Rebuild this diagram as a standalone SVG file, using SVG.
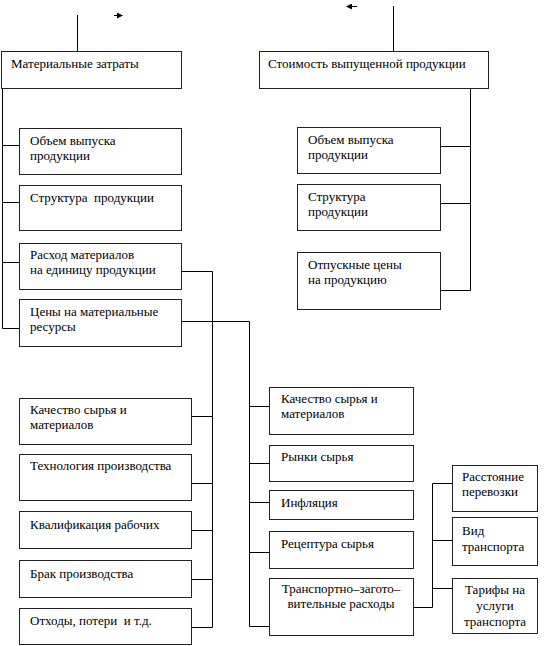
<svg xmlns="http://www.w3.org/2000/svg" width="548" height="646" viewBox="0 0 548 646">
<defs>
<style>
.box{fill:#fff;stroke:#222;stroke-width:1}
.ln{fill:none;stroke:#000;stroke-width:1}
.c{text-anchor:middle}
.t{font-family:"Times New Roman","Liberation Serif",Tinos,"DejaVu Serif",serif;font-size:13px;fill:#000}
</style>
<marker id="ah" viewBox="0 0 6 6" refX="5" refY="3" markerWidth="6" markerHeight="6" markerUnits="userSpaceOnUse" orient="auto">
<path d="M0,0 L6,3 L0,6 Z" fill="#000"/>
</marker>
</defs>
<rect width="548" height="646" fill="#fff"/>
<g id="connectors">
<line class="ln" x1="114" y1="15.5" x2="122" y2="15.5" marker-end="url(#ah)"/>
<line class="ln" x1="357" y1="6.5" x2="347" y2="6.5" marker-end="url(#ah)"/>
<line class="ln" x1="77.5" y1="15" x2="77.5" y2="51"/>
<line class="ln" x1="393.5" y1="6" x2="393.5" y2="51"/>
<path class="ln" d="M2.5,88 V328.5 H19 M2.5,145.5 H19 M2.5,202.5 H19 M2.5,262.5 H19"/>
<path class="ln" d="M470.5,88 V290.5 H441 M470.5,146.5 H441 M470.5,203.5 H441"/>
<path class="ln" d="M181,271.5 H212.5 V627.5 H191 M212.5,416.5 H191 M212.5,483.5 H191 M212.5,530.5 H191 M212.5,579.5 H191"/>
<path class="ln" d="M181,321.5 H249.5 V626.5 H269 M249.5,406.5 H269 M249.5,463.5 H269 M249.5,502.5 H269 M249.5,552.5 H269"/>
<path class="ln" d="M413,607.5 H432.5 V483.5 H452 M432.5,540.5 H452 M432.5,588.5 H452"/>
</g>
<g class="t">
<g id="n-mat">
<rect class="box" x="1.5" y="51.5" width="180" height="37"/>
<text class="t" x="11" y="68">Материальные затраты</text>
</g>
<g id="n-stoim">
<rect class="box" x="259.5" y="51.5" width="229" height="37"/>
<text class="t" x="268" y="68">Стоимость выпущенной продукции</text>
</g>
<g id="n-l1">
<rect class="box" x="19.5" y="128.5" width="162" height="46"/>
<text class="t" x="30" y="145">Объем выпуска</text>
<text class="t" x="30" y="160">продукции</text>
</g>
<g id="n-l2">
<rect class="box" x="19.5" y="185.5" width="162" height="45"/>
<text class="t" x="30" y="202" xml:space="preserve">Структура  продукции</text>
</g>
<g id="n-l3">
<rect class="box" x="19.5" y="243.5" width="162" height="46"/>
<text class="t" x="30" y="259">Расход материалов</text>
<text class="t" x="30" y="274">на единицу продукции</text>
</g>
<g id="n-l4">
<rect class="box" x="19.5" y="299.5" width="162" height="47"/>
<text class="t" x="30" y="316">Цены на материальные</text>
<text class="t" x="30" y="331">ресурсы</text>
</g>
<g id="n-r1">
<rect class="box" x="297.5" y="127.5" width="143" height="46"/>
<text class="t" x="308" y="144">Объем выпуска</text>
<text class="t" x="308" y="159">продукции</text>
</g>
<g id="n-r2">
<rect class="box" x="297.5" y="184.5" width="143" height="46"/>
<text class="t" x="308" y="201">Структура</text>
<text class="t" x="308" y="216">продукции</text>
</g>
<g id="n-r3">
<rect class="box" x="297.5" y="252.5" width="143" height="57"/>
<text class="t" x="308" y="269">Отпускные цены</text>
<text class="t" x="308" y="284">на продукцию</text>
</g>
<g id="n-b1">
<rect class="box" x="19.5" y="398.5" width="172" height="46"/>
<text class="t" x="30" y="414">Качество сырья и</text>
<text class="t" x="30" y="429">материалов</text>
</g>
<g id="n-b2">
<rect class="box" x="19.5" y="454.5" width="172" height="46"/>
<text class="t" x="30" y="470">Технология производства</text>
</g>
<g id="n-b3">
<rect class="box" x="19.5" y="511.5" width="172" height="37"/>
<text class="t" x="30" y="529">Квалификация рабочих</text>
</g>
<g id="n-b4">
<rect class="box" x="19.5" y="560.5" width="172" height="37"/>
<text class="t" x="30" y="578">Брак производства</text>
</g>
<g id="n-b5">
<rect class="box" x="19.5" y="608.5" width="172" height="36"/>
<text class="t" x="30" y="625" xml:space="preserve">Отходы, потери  и т.д.</text>
</g>
<g id="n-m1">
<rect class="box" x="269.5" y="387.5" width="144" height="47"/>
<text class="t" x="281" y="403">Качество сырья и</text>
<text class="t" x="281" y="418">материалов</text>
</g>
<g id="n-m2">
<rect class="box" x="269.5" y="445.5" width="144" height="36"/>
<text class="t" x="281" y="461">Рынки сырья</text>
</g>
<g id="n-m3">
<rect class="box" x="269.5" y="490.5" width="144" height="29"/>
<text class="t" x="281" y="507">Инфляция</text>
</g>
<g id="n-m4">
<rect class="box" x="269.5" y="531.5" width="144" height="37"/>
<text class="t" x="281" y="548">Рецептура сырья</text>
</g>
<g id="n-m5">
<rect class="box" x="269.5" y="578.5" width="144" height="57"/>
<text class="t c" x="341" y="593">Транспортно–загото–</text>
<text class="t c" x="341" y="608">вительные расходы</text>
</g>
<g id="n-t1">
<rect class="box" x="452.5" y="465.5" width="85" height="46"/>
<text class="t" x="462" y="481">Расстояние</text>
<text class="t" x="462" y="496">перевозки</text>
</g>
<g id="n-t2">
<rect class="box" x="452.5" y="517.5" width="85" height="48"/>
<text class="t" x="462" y="535">Вид</text>
<text class="t" x="462" y="551">транспорта</text>
</g>
<g id="n-t3">
<rect class="box" x="452.5" y="578.5" width="85" height="55"/>
<text class="t c" x="495" y="594">Тарифы на</text>
<text class="t c" x="495" y="610">услуги</text>
<text class="t c" x="495" y="626">транспорта</text>
</g>
</g>
</svg>
